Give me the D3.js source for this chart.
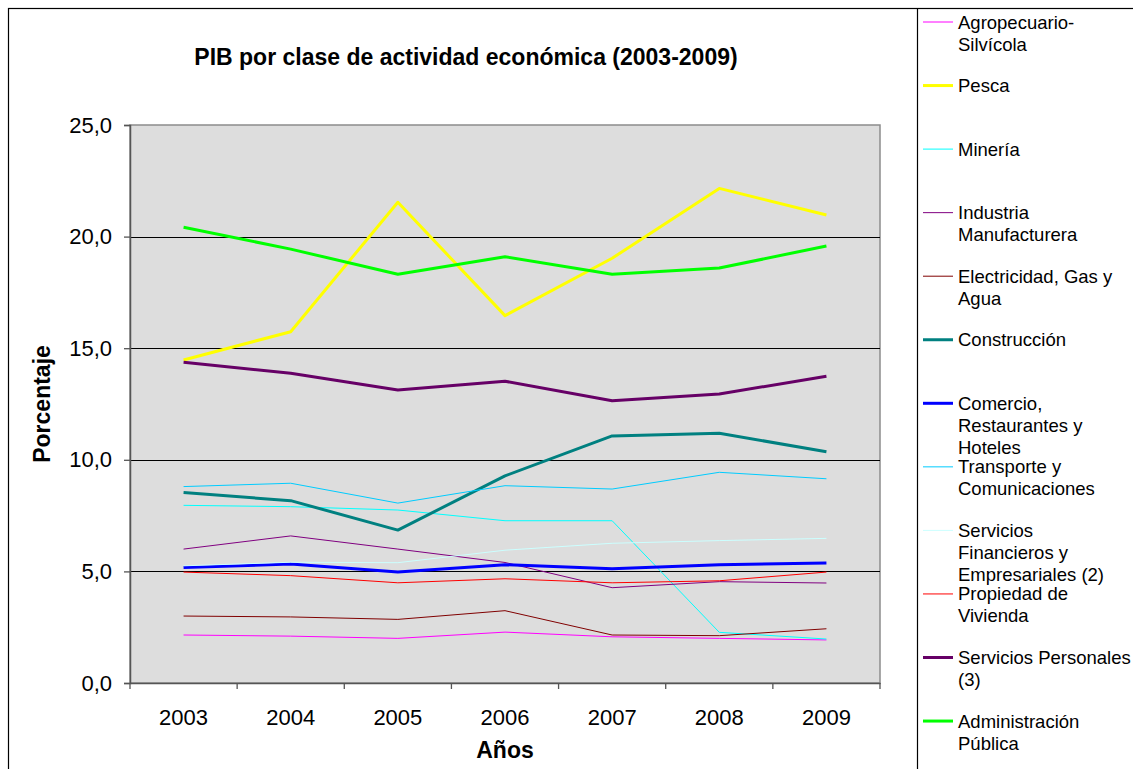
<!DOCTYPE html>
<html>
<head>
<meta charset="utf-8">
<script src="https://cdn.jsdelivr.net/npm/d3@7"></script>
<style>
  html, body { margin: 0; padding: 0; background: #fff; }
  svg { display: block; font-family: "Liberation Sans", Arial, sans-serif; }
</style>
</head>
<body>
<svg id="chart" width="1133" height="769"></svg>
<script>
// Years on the category axis
const years = ["2003", "2004", "2005", "2006", "2007", "2008", "2009"];

// Share of GDP (%) by economic activity
const agropecuario   = [2.15, 2.10, 2.00, 2.28, 2.07, 2.00, 1.93];
const pesca          = [14.47, 15.74, 21.54, 16.46, 19.03, 22.16, 20.97];
const mineria        = [7.96, 7.90, 7.75, 7.27, 7.27, 2.27, 1.97];
const industria      = [6.00, 6.59, 6.00, 5.40, 4.27, 4.54, 4.48];
const electricidad   = [3.00, 2.96, 2.85, 3.24, 2.15, 2.12, 2.43];
const construccion   = [8.53, 8.17, 6.85, 9.28, 11.07, 11.19, 10.36];
const comercio       = [5.17, 5.33, 4.97, 5.30, 5.12, 5.30, 5.38];
const transporte     = [8.80, 8.95, 8.06, 8.84, 8.69, 9.44, 9.15];
const financieros    = [5.25, 5.41, 5.39, 5.95, 6.26, 6.38, 6.48];
const vivienda       = [4.97, 4.81, 4.49, 4.67, 4.49, 4.58, 4.97];
const personales     = [14.37, 13.88, 13.13, 13.52, 12.65, 12.95, 13.74];
const administracion = [20.42, 19.44, 18.31, 19.10, 18.31, 18.59, 19.58];

// Legend labels, one array of text lines per series
const seriesLabels = [
  ["Agropecuario-", "Silvícola"],
  ["Pesca"],
  ["Minería"],
  ["Industria", "Manufacturera"],
  ["Electricidad, Gas y", "Agua"],
  ["Construcción"],
  ["Comercio,", "Restaurantes y", "Hoteles"],
  ["Transporte y", "Comunicaciones"],
  ["Servicios", "Financieros y", "Empresariales (2)"],
  ["Propiedad de", "Vivienda"],
  ["Servicios Personales", "(3)"],
  ["Administración", "Pública"]
];

// Y axis tick values
const yTicks = [0, 5, 10, 15, 20, 25];

const seriesValues = [agropecuario, pesca, mineria, industria, electricidad, construccion,
                      comercio, transporte, financieros, vivienda, personales, administracion];

// Line styling per series
const seriesColors = ["#ff00ff", "#ffff00", "#00ffff", "#800080", "#800000", "#008080",
                      "#0000ff", "#00ccff", "#ccffff", "#ff0000", "#660066", "#00ff00"];
const seriesWidths = [1, 3, 1, 1, 1, 3, 3, 1, 1, 1, 3, 3];

const series = seriesLabels.map((lines, i) => ({
  lines, values: seriesValues[i], color: seriesColors[i], width: seriesWidths[i]
}));

const svg = d3.select("#chart");

// Outer chart frame and the legend's divider
svg.append("rect").attr("x", 8.5).attr("y", 8.5).attr("width", 1140).attr("height", 780)
  .attr("fill", "#fff").attr("stroke", "#000").attr("stroke-width", 1.2);
svg.append("line").attr("x1", 917.5).attr("x2", 917.5).attr("y1", 8.5).attr("y2", 769)
  .attr("stroke", "#000").attr("stroke-width", 1.2);

// Plot area
const plot = { left: 130, top: 125, right: 880, bottom: 683 };

const x = d3.scaleBand().domain(years).range([plot.left, plot.right]).paddingInner(0).paddingOuter(0);
const y = d3.scaleLinear().domain([0, 25]).range([plot.bottom, plot.top]);

svg.append("rect")
  .attr("x", plot.left).attr("y", plot.top)
  .attr("width", plot.right - plot.left).attr("height", plot.bottom - plot.top)
  .attr("fill", "#dddddd").attr("stroke", "#8c8c8c").attr("stroke-width", 1.5);

// Horizontal gridlines
svg.append("g").selectAll("line")
  .data(yTicks.filter(t => t > 0 && t < 25))
  .join("line")
  .attr("x1", plot.left).attr("x2", plot.right)
  .attr("y1", d => Math.round(y(d)) + 0.5).attr("y2", d => Math.round(y(d)) + 0.5)
  .attr("stroke", "#000").attr("stroke-width", 1);

// Y axis
const fmt = d => d.toFixed(1).replace(".", ",");
const yAxis = svg.append("g")
  .attr("transform", `translate(${plot.left},0)`)
  .call(d3.axisLeft(y).tickValues(yTicks).tickFormat(fmt).tickSize(6).tickPadding(12));
yAxis.select(".domain").attr("stroke", "#555").attr("stroke-width", 1.5);
yAxis.selectAll(".tick line").attr("stroke", "#555").attr("stroke-width", 1.3);
yAxis.selectAll(".tick text").attr("font-size", 22).attr("fill", "#000")
  .attr("font-family", "Liberation Sans, Arial, sans-serif");

// X axis: ticks on category boundaries, labels centered in each band
const xAxis = svg.append("g")
  .attr("transform", `translate(0,${plot.bottom})`)
  .call(d3.axisBottom(x).tickSize(0).tickPadding(26));
xAxis.select(".domain").attr("stroke", "#555").attr("stroke-width", 1.5);
xAxis.selectAll(".tick text").attr("font-size", 22).attr("fill", "#000")
  .attr("font-family", "Liberation Sans, Arial, sans-serif");
const boundaries = years.map(yr => x(yr)).concat([x(years[years.length - 1]) + x.bandwidth()]);
xAxis.append("g").selectAll("line").data(boundaries).join("line")
  .attr("x1", d => d).attr("x2", d => d).attr("y1", 0).attr("y2", 6)
  .attr("stroke", "#555").attr("stroke-width", 1.3);

// Series lines
const line = d3.line()
  .x((d, i) => x(years[i]) + x.bandwidth() / 2)
  .y(d => y(d));

svg.append("g").selectAll("path")
  .data(series)
  .join("path")
  .attr("d", d => line(d.values))
  .attr("fill", "none")
  .attr("stroke", d => d.color)
  .attr("stroke-width", d => d.width)
  .attr("stroke-linejoin", "round");

// Title and axis titles
svg.append("text")
  .attr("x", 466).attr("y", 65)
  .attr("text-anchor", "middle")
  .attr("font-size", 23).attr("font-weight", "bold")
  .text("PIB por clase de actividad económica (2003-2009)");

svg.append("text")
  .attr("transform", `translate(50,${(plot.top + plot.bottom) / 2}) rotate(-90)`)
  .attr("text-anchor", "middle")
  .attr("font-size", 23).attr("font-weight", "bold")
  .text("Porcentaje");

svg.append("text")
  .attr("x", 505).attr("y", 758)
  .attr("text-anchor", "middle")
  .attr("font-size", 23).attr("font-weight", "bold")
  .text("Años");

// Legend
const legendTop = 22, legendStep = 63.55, lineHeight = 22;
const legend = svg.append("g");
const entries = legend.selectAll("g").data(series).join("g")
  .attr("transform", (d, i) => `translate(0,${legendTop + i * legendStep})`);
entries.append("line")
  .attr("x1", 923).attr("x2", 953).attr("y1", 0).attr("y2", 0)
  .attr("stroke", d => d.color)
  .attr("stroke-width", d => d.width);
entries.append("text")
  .attr("x", 958).attr("y", 6.5)
  .attr("font-size", 18.5).attr("fill", "#000")
  .selectAll("tspan").data(d => d.lines).join("tspan")
  .attr("x", 958).attr("dy", (d, i) => i === 0 ? 0 : lineHeight)
  .text(d => d);
</script>
</body>
</html>
